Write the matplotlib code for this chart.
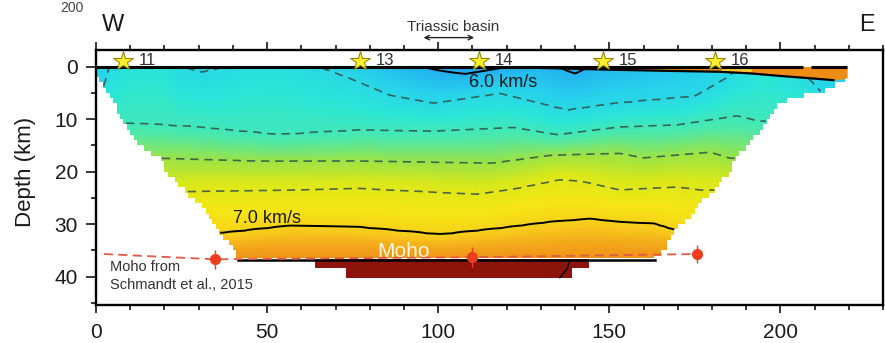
import numpy as np
import matplotlib
matplotlib.use('Agg')
import matplotlib.pyplot as plt
from matplotlib.colors import LinearSegmentedColormap, Normalize
from matplotlib.ticker import MultipleLocator, FixedLocator

plt.rcParams['font.family'] = ['Liberation Sans', 'DejaVu Sans']

# ---------------- data ----------------
station_names = ['11', '13', '14', '15', '16']
station_x = [7.9, 77.2, 111.8, 148.3, 181.0]
station_z = [-1.1, -1.1, -1.1, -1.1, -1.1]

# surface velocity (km/s) along profile
surf_x = [0, 4, 10, 20, 25, 31, 38, 45, 55, 65, 80, 95, 108, 121, 128, 135, 140, 144, 160, 180, 188, 195, 205, 215, 220]
surf_v = [6.15, 6.2, 6.28, 6.28, 6.2, 6.17, 6.2, 6.25, 6.25, 6.2, 6.1, 6.0, 5.94, 6.0, 6.03, 6.0, 5.96, 6.0, 6.06, 6.13, 6.2, 6.28, 6.2, 6.12, 6.1]

# depth of iso-velocity lines (km)
d62_x = [0, 2, 4, 25, 31, 38, 65, 74, 86, 98.6, 118, 137.6, 152, 175, 185, 188, 205, 212, 220]
d62_z = [5.0, 4.5, 0, 0, 1.0, 0, 0, 2.2, 5.5, 7.0, 5.1, 8.3, 7.0, 5.7, 1.9, 0, 0, 5.0, 6.0]
d64_x = [0, 8, 27.5, 52.8, 77, 98.6, 122, 134.7, 153, 169.8, 187.3, 194, 220]
d64_z = [10.5, 10.8, 11.4, 13.0, 12.1, 12.3, 11.6, 13.0, 11.5, 11.1, 9.4, 10.5, 10.5]
d66_x = [0, 20.7, 47, 77, 116, 132.7, 153, 160, 179.5, 185.4, 220]
d66_z = [17.5, 17.5, 18.0, 18.0, 18.4, 16.9, 16.5, 17.4, 16.3, 17.5, 17.5]
d68_x = [0, 27.5, 56.7, 77, 111.3, 123, 135.7, 142.4, 153, 169.8, 176.6, 220]
d68_z = [23.8, 23.8, 23.5, 23.2, 24.3, 23.2, 21.5, 21.9, 23.5, 22.9, 23.5, 23.5]
d70_x = [0, 37.2, 56.7, 77.2, 100.6, 118, 132.7, 144.4, 153, 163, 168.8, 220]
d70_z = [31.7, 31.7, 30.3, 30.6, 32.0, 30.8, 29.6, 29.0, 29.6, 29.9, 31.1, 32.5]
model_bottom = 36.5
v_bottom = 7.3

# model outline
left_z = [0, 2.0, 3.5, 6.7, 9.6, 12.7, 15.9, 17.4, 20, 22.6, 24.5, 27.6, 31.5, 34.6, 36.5]
left_x = [0, 0.5, 2, 5, 7, 10, 14.3, 18.7, 20.7, 24.6, 27.5, 32.4, 36.3, 40, 41.5]
right_z = [0, 2.5, 3.5, 5, 6, 8, 10, 13, 15.5, 17.4, 19.3, 23, 24.5, 26.4, 28.8, 30, 32, 35.3, 36.5]
right_x = [219, 219, 215.5, 211.7, 203, 198, 196, 193, 190, 187, 186, 181.5, 178.6, 175.6, 173.7, 170.8, 168.8, 165.8, 163]

# near-surface high-colour strip (east)
strip_x = [121, 135, 150, 165, 182, 191, 200, 210, 215.5, 219.5]
strip_bot = [0.15, 0.35, 0.6, 0.8, 1.0, 1.3, 1.8, 2.3, 2.6, 2.2]
strip_line_x = [121, 135, 150, 165, 182, 191, 200, 210, 215.5]
strip_line_z = [0.15, 0.35, 0.6, 0.8, 1.0, 1.3, 1.8, 2.3, 2.6]
yellow_x = [182.5, 191.5]
yellow_bot = [1.0, 1.25]

# sub-Moho blocks
mantle_x0 = [64, 73]
mantle_x1 = [144, 139]
mantle_top = [36.7, 38.4]
mantle_bot = [38.4, 40.2]
moho_line_x = [41.5, 163.5]
moho_line_z = [36.75, 36.75]
inner_x = [138.5, 137.6, 135.5]
inner_z = [37.0, 38.6, 40.2]

# Moho from Schmandt et al., 2015
schm_line_x = [2.3, 34.8, 109.8, 175.6]
schm_line_z = [35.7, 36.7, 36.3, 35.7]
schm_pts_x = [34.8, 109.8, 175.6]
schm_pts_z = [36.7, 36.3, 35.7]
schm_err = [1.8, 1.9, 1.8]

# colour map anchors (velocity, colour)
cmap_v = [5.85, 6.0, 6.15, 6.3, 6.45, 6.6, 6.75, 6.9, 7.05, 7.2, 7.4, 8.0]
cmap_c = ['#1e8ce6', '#23b0f0', '#28d2eb', '#2ae6d7', '#4ce8aa', '#9ae446',
          '#d9e819', '#f5e614', '#f8c81c', '#f2a41a', '#eb8216', '#8c140a']

# ---------------- build velocity grid ----------------
dx, dz = 0.5, 0.5
xe = np.arange(0, 220 + dx / 2, dx)
ze = np.arange(0, model_bottom + dz / 2, dz)
xc = 0.5 * (xe[:-1] + xe[1:])
zc = 0.5 * (ze[:-1] + ze[1:])
V = np.zeros((len(zc), len(xc)))
for j, x in enumerate(xc):
    v0 = np.interp(x, surf_x, surf_v)
    pz = [0.0]
    pv = [v0]
    if v0 < 6.2:
        pz.append(max(np.interp(x, d62_x, d62_z), 0.05))
        pv.append(6.2)
    for lx, lz, lv in [(d64_x, d64_z, 6.4), (d66_x, d66_z, 6.6),
                       (d68_x, d68_z, 6.8), (d70_x, d70_z, 7.0)]:
        pz.append(np.interp(x, lx, lz))
        pv.append(lv)
    pz.append(model_bottom)
    pv.append(v_bottom)
    V[:, j] = np.interp(zc, pz, pv)

# staircase mask on 1 km cells
XC, ZC = np.meshgrid(np.floor(xc) + 0.5, np.floor(zc) + 0.5)
xl = np.interp(ZC, left_z, left_x)
xr = np.interp(ZC, right_z, right_x)
mask = (XC < xl) | (XC > xr)
Vm = np.ma.array(V, mask=mask)

pos = [(v - cmap_v[0]) / (cmap_v[-1] - cmap_v[0]) for v in cmap_v]
cmap = LinearSegmentedColormap.from_list('vel', list(zip(pos, cmap_c)))
norm = Normalize(cmap_v[0], cmap_v[-1])

# ---------------- figure ----------------
fig = plt.figure(figsize=(8.85, 3.43), dpi=100)
ax = fig.add_axes([0.1085, 0.1108, 0.8893, 0.7434])

ax.pcolormesh(xe, ze, Vm, cmap=cmap, norm=norm, shading='flat', zorder=1)

ax.contour(xc, zc, Vm, levels=[6.2, 6.4, 6.6, 6.8], colors='#34504a',
           linewidths=1.2, linestyles=[(0, (5, 3.5))], alpha=0.85, zorder=2)
ax.contour(xc, zc, Vm, levels=[6.0, 7.0], colors='black',
           linewidths=1.4, zorder=2)

# strip
ax.fill_between(strip_x, 0, strip_bot, color='#ef8c16', lw=0, zorder=3)
ax.fill_between(yellow_x, 0, yellow_bot, color='#f5c431', lw=0, zorder=3)
ax.plot(strip_line_x, strip_line_z, color='black', lw=1.6, zorder=4)

# surface line with small gap
ax.plot([0, 206.7], [0, 0], color='black', lw=2.2, zorder=4, solid_capstyle='butt')
ax.plot([209, 219.5], [0, 0], color='black', lw=2.2, zorder=4, solid_capstyle='butt')

# mantle blocks
for x0, x1, t, b in zip(mantle_x0, mantle_x1, mantle_top, mantle_bot):
    ax.fill_between([x0, x1], [t, t], [b, b], color='#8c140a', lw=0, zorder=3)
ax.plot(moho_line_x, moho_line_z, color='black', lw=1.8, zorder=4)
ax.plot(inner_x, inner_z, color='black', lw=1.0, zorder=4)

# Schmandt Moho
ax.plot(schm_line_x, schm_line_z, color='#e05a46', lw=1.3, ls=(0, (5, 3)), zorder=5)
ax.errorbar(schm_pts_x, schm_pts_z, yerr=schm_err, fmt='o', color='#f03c1e',
            ms=7, elinewidth=1.0, capsize=0, zorder=6)

# stations
ax.plot(station_x, station_z, ls='none', marker='*', ms=15, mfc='#fff02a',
        mec='#8a7d00', mew=0.7, zorder=7, clip_on=False)
for nm, sx, sz in zip(station_names, station_x, station_z):
    ax.text(sx + 4.6, sz - 0.1, nm, fontsize=12, color='#303030',
            ha='left', va='center', zorder=7)

# labels
ax.text(119, 3.1, '6.0 km/s', fontsize=13, color='#1a1a1a', ha='center', va='center', zorder=6)
ax.text(50, 29.0, '7.0 km/s', fontsize=13, color='#1a1a1a', ha='center', va='center', zorder=6)
ax.text(90, 36.2, 'Moho', fontsize=15, color='#fff8dc', ha='center', va='baseline', zorder=6)
ax.text(4.1, 38.2, 'Moho from', fontsize=10.5, color='#333333', ha='left', va='center', zorder=6)
ax.text(4.1, 41.6, 'Schmandt et al., 2015', fontsize=10.5, color='#333333', ha='left', va='center', zorder=6)

ax.text(1.8, -7.9, 'W', fontsize=17, color='#1a1a1a', ha='left', va='center', clip_on=False)
ax.text(225.3, -7.9, 'E', fontsize=17, color='#1a1a1a', ha='center', va='center', clip_on=False)
ax.text(104.5, -7.6, 'Triassic basin', fontsize=11, color='#333333', ha='center', va='center', clip_on=False)
ax.annotate('', xy=(95.7, -5.5), xytext=(110.5, -5.5),
            arrowprops=dict(arrowstyle='<->', lw=1.0, color='#222222',
                            shrinkA=0, shrinkB=0, mutation_scale=8),
            annotation_clip=False)
fig.text(72 / 885, 1 - 12.5 / 343, '200', fontsize=10, color='#444444', ha='center', va='baseline')

# axes styling
ax.set_xlim(0, 230)
ax.set_ylim(45.4, -3.14)
ax.xaxis.set_major_locator(FixedLocator([0, 50, 100, 150, 200]))
ax.xaxis.set_minor_locator(MultipleLocator(10))
ax.yaxis.set_major_locator(FixedLocator([0, 10, 20, 30, 40]))
ax.yaxis.set_minor_locator(FixedLocator([5, 15, 25, 35, 45]))
ax.tick_params(axis='x', which='major', direction='out', length=6, width=1.1,
               top=True, bottom=True, labelsize=15, pad=7, labelcolor='#1a1a1a')
ax.tick_params(axis='x', which='minor', direction='out', length=3.5, width=1.1,
               top=True, bottom=True)
ax.tick_params(axis='y', which='major', direction='out', length=7, width=1.1,
               left=True, right=False, labelsize=15, pad=6, labelcolor='#1a1a1a')
ax.tick_params(axis='y', which='minor', direction='out', length=3.6, width=1.1,
               left=True, right=False)
for s in ax.spines.values():
    s.set_linewidth(1.7)
ax.set_ylabel('Depth (km)', fontsize=16, color='#1a1a1a')
ax.yaxis.set_label_coords(-0.076, 0.52)

fig.savefig('out.png', dpi=100)
